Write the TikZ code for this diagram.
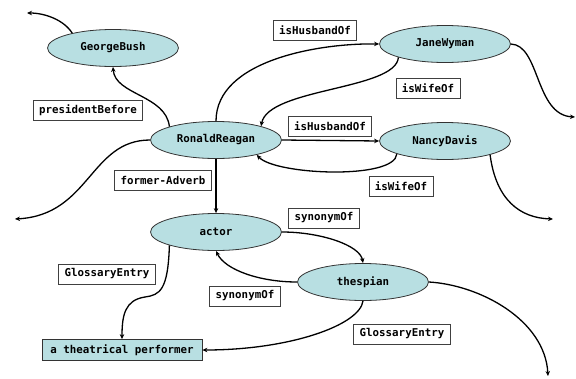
\documentclass[tikz,border=0pt]{standalone}
\usepackage{fontspec}
\setmonofont{DejaVu Sans Mono}
\usetikzlibrary{shapes.geometric,arrows.meta}
\definecolor{conceptfill}{RGB}{184,223,226}
\tikzset{
  concept/.style={ellipse, draw=black!80, line width=0.8pt, fill=conceptfill, minimum width=131pt, minimum height=37pt, inner sep=0pt, font=\ttfamily\bfseries\fontsize{10.8}{12}\selectfont},
  literal/.style={rectangle, draw=black!80, line width=0.8pt, fill=conceptfill, minimum width=160pt, minimum height=21pt, inner sep=2pt, font=\ttfamily\bfseries\fontsize{10.8}{12}\selectfont},
  rel/.style={rectangle, draw=black!75, line width=0.6pt, fill=white, minimum height=20pt, inner xsep=6pt, inner ysep=2pt, font=\ttfamily\bfseries\fontsize{10.8}{12}\selectfont},
  edge/.style={line width=1.3pt, -{Stealth[length=5pt,width=4.5pt]}}
}
\begin{document}
\begin{tikzpicture}[x=1pt,y=-1pt]
\useasboundingbox (0,0) rectangle (576,378);
% concepts
\node[concept] (gb) at (113,48) {GeorgeBush};
\node[concept] (jw) at (445,44) {JaneWyman};
\node[concept] (rr) at (216,140) {RonaldReagan};
\node[concept] (nd) at (445,141) {NancyDavis};
\node[concept] (ac) at (216,232) {actor};
\node[concept] (th) at (363,282) {thespian};
\node[literal] (tp) at (122,350) {a theatrical performer};
% free ends
\coordinate (e1) at (27,13);
\coordinate (e2) at (575,117);
\coordinate (e3) at (553,219);
\coordinate (e4) at (15,219);
\coordinate (e5) at (548,376);
% relation labels
\node[rel] (l1) at (315,30) {isHusbandOf};
\node[rel] (l2) at (88,110) {presidentBefore};
\node[rel] (l3) at (428,88) {isWifeOf};
\node[rel] (l4) at (330,126) {isHusbandOf};
\node[rel] (l5) at (401,186) {isWifeOf};
\node[rel] (l6) at (163,180) {former-Adverb};
\node[rel] (l7) at (324,218) {synonymOf};
\node[rel] (l8) at (107,274) {GlossaryEntry};
\node[rel] (l9) at (245,296) {synonymOf};
\node[rel] (l10) at (402,334) {GlossaryEntry};
% edges
\draw[edge] (gb.160) .. controls (64,20) and (45,13) .. (e1);
\draw[edge] (rr.164) .. controls (166,95) and (115,95) .. (gb.south);
\draw[edge] (rr.north) .. controls (216,60) and (320,43) .. (jw.west);
\draw[edge] (jw.196) .. controls (396,90) and (268,88) .. (rr.17);
\draw[edge] (rr.east) -- (nd.west);
\draw[edge] (nd.195) .. controls (395,180) and (275,175) .. (rr.340);
\draw[edge] (jw.east) .. controls (540,45) and (535,115) .. (e2);
\draw[edge] (nd.-17) .. controls (496,200) and (520,218) .. (e3);
\draw[edge] (rr.west) .. controls (90,140) and (90,215) .. (e4);
\draw[edge] (rr.south) -- (ac.north);
\draw[edge] (ac.east) .. controls (320,232) and (360,245) .. (th.north);
\draw[edge] (th.west) .. controls (260,282) and (225,270) .. (ac.south);
\draw[edge] (ac.196) .. controls (168,290) and (160,295) .. (145,297) .. controls (125,300) and (122,315) .. (tp.north);
\draw[edge] (th.south) .. controls (360,325) and (290,350) .. (tp.east);
\draw[edge] (th.east) .. controls (480,285) and (545,320) .. (e5);
\end{tikzpicture}
\end{document}
